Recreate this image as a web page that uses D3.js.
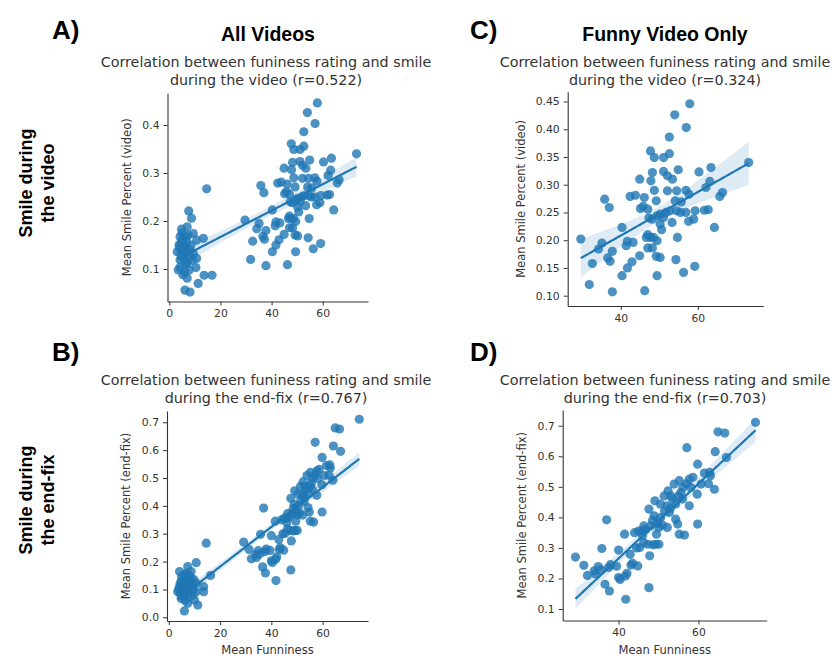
<!DOCTYPE html>
<html>
<head>
<meta charset="utf-8">
<script src="https://cdn.jsdelivr.net/npm/d3@7/dist/d3.min.js"></script>
<style>
  html, body { margin: 0; padding: 0; background: #fff; }
  svg { display: block; }
  .title { font-family: "DejaVu Sans", sans-serif; font-size: 14.3px; fill: #333; }
  .tick text { font-family: "DejaVu Sans", sans-serif; font-size: 10.8px; fill: #333; }
  .axlabel { font-family: "DejaVu Sans", sans-serif; font-size: 11.5px; fill: #333; }
  .head { font-family: "Liberation Sans", Arial, sans-serif; font-weight: bold; fill: #000; }
</style>
</head>
<body>
<svg id="fig" width="835" height="660"></svg>
<script>
// ---- Funny video only: mean funniness vs mean smile during the video ----
const funnyVideoFun = [29.6,31.8,32.6,35.1,34.2,35.8,37.0,36.6,37.2,37.8,37.8,40.3,40.3,41.7,42.9,41.4,41.7,43.2,42.4,43.8,
  44.9,44.9,45.1,46.1,46.2,46.6,47.0,47.0,47.7,48.7,48.2,47.8,48.7,49.2,48.1,47.7,48.5,49.4,48.2,49.2,
  49.4,51.1,52.6,52.6,54.0,57.9,57.0,51.1,52.1,53.4,54.9,54.5,56.9,57.7,50.2,51.1,50.2,50.6,51.7,52.8,
  53.3,54.1,54.5,55.5,54.7,54.3,56.3,59.2,57.6,58.9,59.3,56.9,60.3,62.1,63.1,63.4,61.7,62.7,64.3,65.7,
  66.4,73.2,47.0,50.2,45.8,49.4,47.3,52.1,55.7];
const funnyVideoSmile = [0.202,0.120,0.158,0.195,0.184,0.274,0.259,0.168,0.162,0.180,0.107,0.136,0.223,0.150,0.161,0.190,0.198,0.196,0.279,0.281,
  0.310,0.172,0.257,0.277,0.109,0.205,0.186,0.256,0.361,0.349,0.322,0.307,0.290,0.271,0.238,0.205,0.205,0.199,0.186,0.171,
  0.136,0.349,0.356,0.386,0.426,0.446,0.403,0.324,0.316,0.310,0.327,0.289,0.290,0.283,0.247,0.241,0.229,0.219,0.250,0.253,
  0.232,0.271,0.253,0.250,0.205,0.165,0.142,0.153,0.234,0.238,0.253,0.250,0.323,0.295,0.306,0.331,0.254,0.255,0.223,0.279,
  0.286,0.340,0.210,0.169,0.261,0.244,0.240,0.289,0.269];

// ---- Funny video only: mean funniness vs mean smile during the end-fix ----
const funnyEndFun = [29.2,31.3,32.2,33.9,34.9,37.0,35.8,37.5,36.6,37.7,40.0,40.4,40.0,41.5,41.8,42.1,43.1,42.9,44.8,44.0,
  45.9,46.3,45.3,46.3,47.6,47.8,47.6,49.1,48.9,48.0,49.3,50.1,47.3,50.5,50.1,51.4,52.4,53.9,53.5,52.1,
  52.7,54.3,54.8,55.2,56.5,54.3,55.6,57.1,57.7,58.6,57.7,59.8,59.8,60.7,59.7,62.8,63.0,64.0,64.2,64.9,
  66.6,67.0,74.3,53.1,50.5,52.2,41.7,55.2,56.1,58.1,48.5,49.8,51.0,46.8,45.0,44.5,48.6,43.5,46.0,53.0,
  56.0,57.0,61.5,62.5,55.0,51.5,49.5,39.5,38.0,34.2,35.6];
const funnyEndSmile = [0.270,0.243,0.210,0.225,0.239,0.392,0.298,0.236,0.181,0.159,0.203,0.197,0.293,0.345,0.132,0.217,0.244,0.279,0.241,0.350,
  0.356,0.372,0.301,0.317,0.170,0.274,0.427,0.454,0.405,0.372,0.312,0.312,0.312,0.399,0.367,0.470,0.487,0.509,0.460,0.438,
  0.416,0.394,0.378,0.345,0.342,0.444,0.481,0.628,0.525,0.531,0.438,0.574,0.378,0.509,0.476,0.547,0.536,0.492,0.615,0.680,
  0.676,0.596,0.711,0.470,0.443,0.367,0.208,0.520,0.498,0.498,0.390,0.380,0.375,0.360,0.355,0.300,0.310,0.250,0.340,0.430,
  0.460,0.510,0.545,0.510,0.470,0.420,0.345,0.240,0.245,0.215,0.228];

// ---- Remaining (non-funny) videos, added to make "All Videos" ----
const otherVideoFun = [14.6,7.6,8.7,4.8,7.0,9.4,4.2,13.3,10.7,3.8,6.1,7.8,3.1,5.5,8.1,10.7,4.2,7.0,4.2,10.4,
  6.1,7.0,13.6,16.7,11.3,6.1,8.1,5.2,6.5,5.5,6.8,3.5,9.4,7.8,4.5,5.8,6.4,4.0,5.0,8.5,
  9.0,5.3,6.6,7.3,4.6];
const otherVideoSmile = [0.267,0.221,0.206,0.183,0.188,0.174,0.167,0.164,0.160,0.150,0.147,0.140,0.136,0.129,0.126,0.122,0.119,0.112,0.103,0.103,
  0.094,0.081,0.087,0.087,0.070,0.056,0.052,0.160,0.167,0.140,0.157,0.098,0.133,0.098,0.130,0.120,0.110,0.145,0.175,0.150,
  0.118,0.088,0.135,0.170,0.155];
const otherEndFun = [14.6,10.7,7.4,4.2,16.3,6.1,8.7,4.8,7.0,10.7,13.6,13.6,3.5,6.1,9.4,4.8,7.4,11.3,6.1,8.1,
  5.5,6.8,4.2,10.0,10.7,8.7,5.0,7.8,6.5,9.2,5.8,4.5,7.6,8.3,5.2,6.9,9.8,3.8,6.3,7.1,
  5.6,8.0,4.4,9.5,6.0];
const otherEndSmile = [0.266,0.196,0.182,0.164,0.150,0.152,0.140,0.128,0.116,0.122,0.110,0.092,0.092,0.080,0.080,0.068,0.050,0.044,0.023,0.104,
  0.104,0.134,0.110,0.062,0.092,0.164,0.145,0.125,0.095,0.110,0.118,0.085,0.072,0.090,0.132,0.158,0.135,0.100,0.060,0.140,
  0.075,0.150,0.120,0.100,0.108];

// ---- Axis ticks ----
const xTicksAll = [0, 20, 40, 60];
const xTicksFunny = [40, 60];
const yTicksVideoAll = [0.1, 0.2, 0.3, 0.4];
const yTicksVideoFunny = [0.10, 0.15, 0.20, 0.25, 0.30, 0.35, 0.40, 0.45];
const yTicksEndAll = [0.0, 0.1, 0.2, 0.3, 0.4, 0.5, 0.6, 0.7];
const yTicksEndFunny = [0.1, 0.2, 0.3, 0.4, 0.5, 0.6, 0.7];

const titleVideo = ["Correlation between funiness rating and smile", "during the video (r=0.522)"];
const titleVideoFunny = ["Correlation between funiness rating and smile", "during the video (r=0.324)"];
const titleEnd = ["Correlation between funiness rating and smile", "during the end-fix (r=0.767)"];
const titleEndFunny = ["Correlation between funiness rating and smile", "during the end-fix (r=0.703)"];

const BLUE = "#1f77b4";
const svg = d3.select("#fig");

// least-squares fit with a 95% confidence band for the mean
function fit(xs, ys) {
  const n = xs.length;
  const xm = d3.mean(xs), ym = d3.mean(ys);
  let sxx = 0, sxy = 0;
  for (let i = 0; i < n; i++) { sxx += (xs[i] - xm) ** 2; sxy += (xs[i] - xm) * (ys[i] - ym); }
  const b = sxy / sxx, a = ym - b * xm;
  let sse = 0;
  for (let i = 0; i < n; i++) sse += (ys[i] - a - b * xs[i]) ** 2;
  const s = Math.sqrt(sse / (n - 2));
  const t = 1.98;
  const f = x => a + b * x;
  const half = x => t * s * Math.sqrt(1 / n + (x - xm) ** 2 / sxx);
  return { f, half };
}

function panel(cfg) {
  const g = svg.append("g");
  const x = d3.scaleLinear().domain(cfg.xDomain).range([cfg.left, cfg.right]);
  const y = d3.scaleLinear().domain(cfg.yDomain).range([cfg.bottom, cfg.top]);
  const pts = cfg.xs.map((v, i) => [v, cfg.ys[i]]);

  // scatter
  g.append("g").selectAll("circle").data(pts).join("circle")
    .attr("cx", d => x(d[0])).attr("cy", d => y(d[1]))
    .attr("r", 4.6).attr("fill", BLUE).attr("fill-opacity", 0.8);

  // regression line with confidence band
  const m = fit(cfg.xs, cfg.ys);
  const [x0, x1] = d3.extent(cfg.xs);
  const grid = d3.range(0, 101).map(i => x0 + (x1 - x0) * i / 100);
  g.append("path").datum(grid)
    .attr("d", d3.area().x(v => x(v)).y0(v => y(m.f(v) - m.half(v))).y1(v => y(m.f(v) + m.half(v))))
    .attr("fill", BLUE).attr("fill-opacity", 0.15);
  g.append("path").datum(grid)
    .attr("d", d3.line().x(v => x(v)).y(v => y(m.f(v))))
    .attr("fill", "none").attr("stroke", BLUE).attr("stroke-width", 2.2);

  // axes (left and bottom spines only)
  const ax = g.append("g").attr("transform", `translate(0,${cfg.bottom})`)
    .call(d3.axisBottom(x).tickValues(cfg.xTicks).tickFormat(d3.format("d")).tickSize(4).tickPadding(4).tickSizeOuter(0));
  const ay = g.append("g").attr("transform", `translate(${cfg.left},0)`)
    .call(d3.axisLeft(y).tickValues(cfg.yTicks).tickFormat(d3.format(cfg.yFormat)).tickSize(4).tickPadding(4).tickSizeOuter(0));
  [ax, ay].forEach(a => {
    a.select(".domain").attr("stroke", "#333").attr("stroke-width", 1.1);
    a.selectAll(".tick line").attr("stroke", "#333");
  });

  // title
  cfg.title.forEach((line, i) => {
    g.append("text").attr("class", "title").attr("x", cfg.titleX).attr("y", cfg.titleY + i * 17.5)
      .attr("text-anchor", "middle").text(line);
  });

  // y label
  g.append("text").attr("class", "axlabel")
    .attr("transform", `translate(${cfg.ylabelX},${(cfg.top + cfg.bottom) / 2}) rotate(-90)`)
    .attr("text-anchor", "middle").text(cfg.ylabel);

  if (cfg.xlabel) {
    g.append("text").attr("class", "axlabel")
      .attr("x", (cfg.left + cfg.right) / 2).attr("y", cfg.bottom + 33)
      .attr("text-anchor", "middle").text(cfg.xlabel);
  }
}

panel({
  xs: otherVideoFun.concat(funnyVideoFun), ys: otherVideoSmile.concat(funnyVideoSmile),
  left: 167.5, right: 368, top: 93, bottom: 301.5,
  xDomain: [-0.7, 77.7], yDomain: [0.0323, 0.4667],
  xTicks: xTicksAll, yTicks: yTicksVideoAll, yFormat: ".1f",
  title: titleVideo, titleX: 266, titleY: 67,
  ylabel: "Mean Smile Percent (video)", ylabelX: 131
});
panel({
  xs: funnyVideoFun, ys: funnyVideoSmile,
  left: 567.7, right: 763.3, top: 91.7, bottom: 306,
  xDomain: [26.2, 77.0], yDomain: [0.0814, 0.4677],
  xTicks: xTicksFunny, yTicks: yTicksVideoFunny, yFormat: ".2f",
  title: titleVideoFunny, titleX: 665, titleY: 67,
  ylabel: "Mean Smile Percent (video)", ylabelX: 525
});
panel({
  xs: otherEndFun.concat(funnyEndFun), ys: otherEndSmile.concat(funnyEndSmile),
  left: 167, right: 368, top: 411, bottom: 621,
  xDomain: [-0.7, 77.7], yDomain: [-0.0133, 0.7406],
  xTicks: xTicksAll, yTicks: yTicksEndAll, yFormat: ".1f",
  title: titleEnd, titleX: 266, titleY: 385,
  ylabel: "Mean Smile Percent (end-fix)", ylabelX: 130, xlabel: "Mean Funniness"
});
panel({
  xs: funnyEndFun, ys: funnyEndSmile,
  left: 562.7, right: 766.7, top: 410, bottom: 620.5,
  xDomain: [26.0, 77.1], yDomain: [0.0624, 0.7514],
  xTicks: xTicksFunny, yTicks: yTicksEndFunny, yFormat: ".1f",
  title: titleEndFunny, titleX: 665, titleY: 385,
  ylabel: "Mean Smile Percent (end-fix)", ylabelX: 526, xlabel: "Mean Funniness"
});

// panel letters and column headings
const heads = [
  { t: "A)", x: 52, y: 39, s: 26, a: "start" },
  { t: "C)", x: 470, y: 39, s: 26, a: "start" },
  { t: "B)", x: 52, y: 361, s: 26, a: "start" },
  { t: "D)", x: 470, y: 361, s: 26, a: "start" },
  { t: "All Videos", x: 268, y: 41, s: 19.5, a: "middle" },
  { t: "Funny Video Only", x: 665, y: 41, s: 19.5, a: "middle" }
];
heads.forEach(h => svg.append("text").attr("class", "head").attr("x", h.x).attr("y", h.y)
  .attr("font-size", h.s).attr("text-anchor", h.a).text(h.t));

// row headings
const rows = [
  { lines: ["Smile during", "the video"], cy: 183 },
  { lines: ["Smile during", "the end-fix"], cy: 500 }
];
rows.forEach(r => r.lines.forEach((l, i) => {
  svg.append("text").attr("class", "head").attr("font-size", 18)
    .attr("transform", `translate(${32 + i * 22},${r.cy}) rotate(-90)`)
    .attr("text-anchor", "middle").text(l);
}));
</script>
</body>
</html>
